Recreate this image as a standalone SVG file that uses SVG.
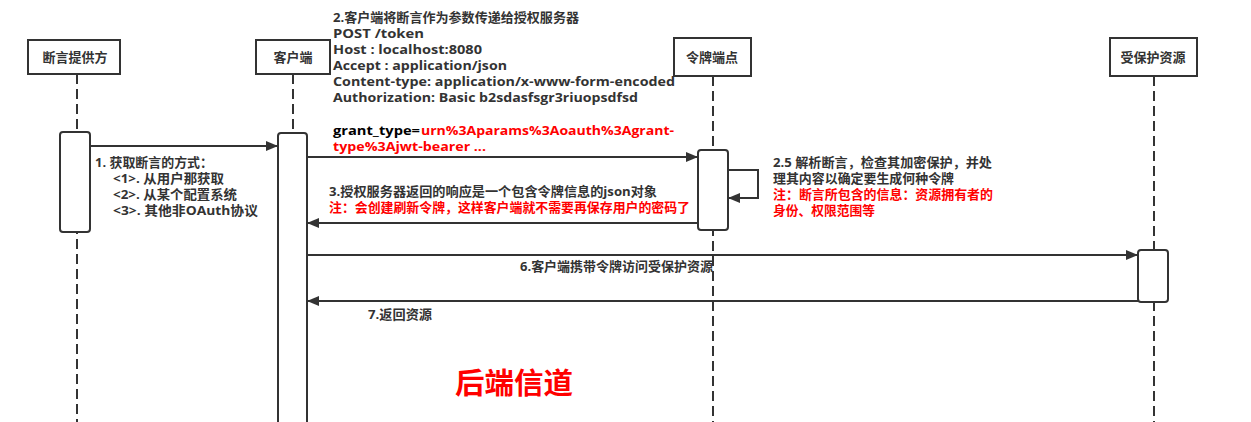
<svg xmlns="http://www.w3.org/2000/svg" width="1251" height="422" viewBox="0 0 1251 422">
<style>
.life{stroke:#333;stroke-width:2;stroke-dasharray:10,5;fill:none}
.hdr{fill:#fff;stroke:#333;stroke-width:2}
.act{fill:#fff;stroke:#333;stroke-width:2}
.msg{stroke:#333;stroke-width:2;fill:none}
.t{font-family:"Open Sans","Noto Sans CJK SC",sans-serif;font-weight:bold;font-size:13px;fill:#333}
.r{fill:#f00}
.h{font-family:"Noto Sans CJK SC",sans-serif;font-weight:bold;font-size:13px;fill:#333;text-anchor:middle}
</style>
<defs>
<marker id="ah" viewBox="0 0 12 10" refX="12" refY="5" markerWidth="12" markerHeight="10" markerUnits="userSpaceOnUse" orient="auto">
<path d="M0,0 L12,5 L0,10 Z" fill="#333"/>
</marker>
</defs>
<rect width="1251" height="422" fill="#fff"/>

<g id="lifelines">
<line class="life" x1="77" y1="74" x2="77" y2="422"/>
<line class="life" x1="293" y1="74" x2="293" y2="422"/>
<line class="life" x1="713" y1="76" x2="713" y2="422"/>
<line class="life" x1="1154" y1="76" x2="1154" y2="422"/>
</g>

<g id="node-assertion-provider">
<rect class="hdr" x="28" y="40" width="92" height="34"/>
<text class="h" x="75" y="62">断言提供方</text>
<rect class="act" x="60" y="132" width="30" height="100" rx="3"/>
</g>
<g id="node-client">
<rect class="hdr" x="256" y="40" width="74" height="34"/>
<text class="h" x="293" y="62">客户端</text>
<rect class="act" x="278" y="133" width="29" height="300" rx="3"/>
</g>
<g id="node-token-endpoint">
<rect class="hdr" x="674" y="38" width="77" height="38"/>
<text class="h" x="712" y="62">令牌端点</text>
<rect class="act" x="698" y="150" width="30" height="80" rx="3"/>
</g>
<g id="node-protected-resource">
<rect class="hdr" x="1110" y="38" width="87" height="38"/>
<text class="h" x="1153" y="62">受保护资源</text>
<rect class="act" x="1138" y="250" width="30" height="52" rx="3"/>
</g>

<g id="connectors">
<line class="msg" x1="90" y1="146" x2="278" y2="146" marker-end="url(#ah)"/>
<line class="msg" x1="307" y1="157" x2="698" y2="157" marker-end="url(#ah)"/>
<polyline class="msg" points="728,170 758,170 758,198 728,198" marker-end="url(#ah)"/>
<line class="msg" x1="698" y1="223" x2="307" y2="223" marker-end="url(#ah)"/>
<line class="msg" x1="307" y1="255" x2="1138" y2="255" marker-end="url(#ah)"/>
<line class="msg" x1="1138" y1="301" x2="307" y2="301" marker-end="url(#ah)"/>
</g>

<g id="labels">
<text class="t" x="333" y="22" textLength="246" lengthAdjust="spacingAndGlyphs">2.客户端将断言作为参数传递给授权服务器</text>
<text class="t" x="333" y="38" textLength="91" lengthAdjust="spacingAndGlyphs">POST /token</text>
<text class="t" x="333" y="54" textLength="149" lengthAdjust="spacingAndGlyphs">Host : localhost:8080</text>
<text class="t" x="333" y="70" textLength="174" lengthAdjust="spacingAndGlyphs">Accept : application/json</text>
<text class="t" x="333" y="86" textLength="342" lengthAdjust="spacingAndGlyphs">Content-type: application/x-www-form-encoded</text>
<text class="t" x="333" y="102" textLength="305" lengthAdjust="spacingAndGlyphs">Authorization: Basic b2sdasfsgr3riuopsdfsd</text>
<text class="t" x="333" y="135" fill="#000" style="fill:#000" textLength="87" lengthAdjust="spacingAndGlyphs">grant_type=</text>
<text class="t r" x="421" y="135" textLength="253" lengthAdjust="spacingAndGlyphs">urn%3Aparams%3Aoauth%3Agrant-</text>
<text class="t r" x="333" y="151" textLength="153" lengthAdjust="spacingAndGlyphs">type%3Ajwt-bearer ...</text>

<text class="t" x="95" y="167" textLength="118" lengthAdjust="spacingAndGlyphs">1. 获取断言的方式：</text>
<text class="t" x="113" y="183" textLength="111" lengthAdjust="spacingAndGlyphs">&lt;1&gt;. 从用户那获取</text>
<text class="t" x="113" y="199" textLength="124" lengthAdjust="spacingAndGlyphs">&lt;2&gt;. 从某个配置系统</text>
<text class="t" x="113" y="215" textLength="145" lengthAdjust="spacingAndGlyphs">&lt;3&gt;. 其他非OAuth协议</text>

<text class="t" x="773" y="167" textLength="219" lengthAdjust="spacingAndGlyphs">2.5 解析断言，检查其加密保护，并处</text>
<text class="t" x="773" y="183" textLength="181" lengthAdjust="spacingAndGlyphs">理其内容以确定要生成何种令牌</text>
<text class="t r" x="773" y="199" textLength="220" lengthAdjust="spacingAndGlyphs">注：断言所包含的信息：资源拥有者的</text>
<text class="t r" x="773" y="215" textLength="102" lengthAdjust="spacingAndGlyphs">身份、权限范围等</text>

<text class="t" x="329" y="196" textLength="328" lengthAdjust="spacingAndGlyphs">3.授权服务器返回的响应是一个包含令牌信息的json对象</text>
<text class="t r" x="329" y="212" textLength="361" lengthAdjust="spacingAndGlyphs">注：会创建刷新令牌，这样客户端就不需要再保存用户的密码了</text>

<text class="t" x="520" y="271" textLength="193" lengthAdjust="spacingAndGlyphs">6.客户端携带令牌访问受保护资源</text>
<text class="t" x="368" y="319" textLength="64" lengthAdjust="spacingAndGlyphs">7.返回资源</text>

<text x="455" y="394" style="font-family:'Noto Sans CJK SC',sans-serif;font-weight:bold;font-size:29px;fill:#f00" textLength="118" lengthAdjust="spacingAndGlyphs">后端信道</text>
</g>
</svg>
